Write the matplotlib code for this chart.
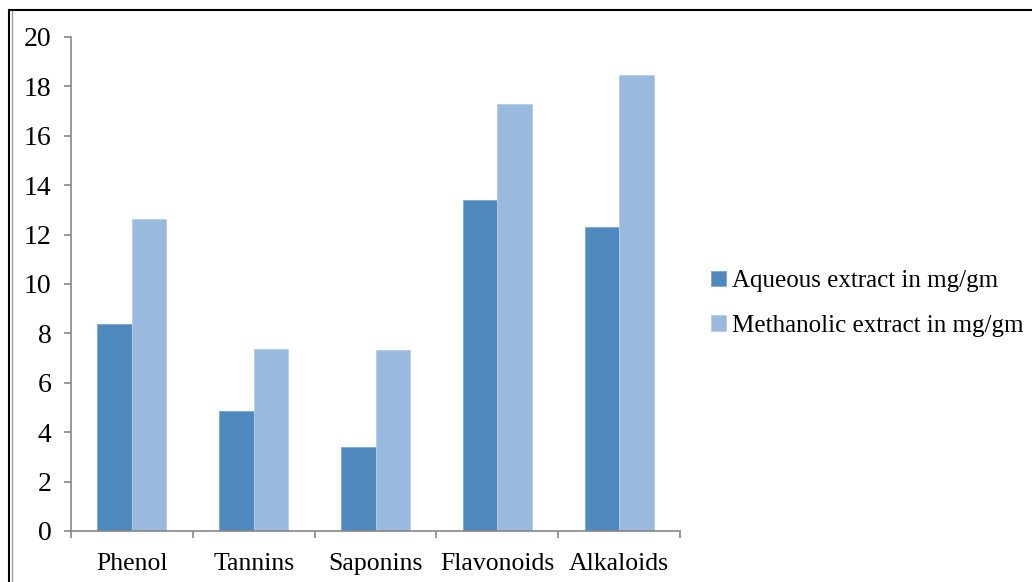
import matplotlib
matplotlib.use("Agg")
import matplotlib.pyplot as plt
from matplotlib.lines import Line2D
import numpy as np

categories = ["Phenol", "Tannins", "Saponins", "Flavonoids", "Alkaloids"]
aqueous = [8.37, 4.86, 3.39, 13.39, 12.30]
methanolic = [12.62, 7.36, 7.32, 17.29, 18.45]
series_names = ["Aqueous extract in mg/gm", "Methanolic extract in mg/gm"]

plt.rcParams['font.family'] = ['Liberation Serif', 'DejaVu Serif']

fig = plt.figure(figsize=(10.32, 5.82), dpi=100)
ax = fig.add_axes([71/1032, 1-531/582, 609/1032, 494/582])

x = np.arange(len(categories))
w = 0.283
ax.bar(x - w/2, aqueous, w, color='#4F89BD', edgecolor='#7FA6D0', linewidth=0.6, label=series_names[0])
ax.bar(x + w/2, methanolic, w, color='#99B9DF', edgecolor='#B5CDEA', linewidth=0.6, label=series_names[1])

ax.set_xlim(-0.5, len(categories) - 0.5)
ax.set_ylim(0, 20)
ax.set_yticks(range(0, 21, 2))
ax.set_xticks(x)
ax.set_xticklabels(categories)
ax.set_xticks(np.arange(-0.5, len(categories), 1), minor=True)

for s in ['top', 'right']:
    ax.spines[s].set_visible(False)
for s in ['left', 'bottom']:
    ax.spines[s].set_color('#868686')
    ax.spines[s].set_linewidth(1.2)

ax.tick_params(axis='y', direction='out', length=5, width=1.2, color='#868686',
               labelsize=20, pad=9)
ax.tick_params(axis='x', which='major', length=0, labelsize=18.5, pad=16)
ax.tick_params(axis='x', which='minor', direction='out', length=5, width=1.2, color='#868686')

ax.legend(loc='center left', bbox_to_anchor=(1.035, 0.4605), frameon=False,
          fontsize=18, handlelength=0.57, handleheight=0.57, handletextpad=0.25,
          labelspacing=0.9, borderaxespad=0)

# outer frame, top and left edges
fig.add_artist(Line2D([10/1032, 1.0], [1-10/582, 1-10/582], transform=fig.transFigure,
                      color='black', linewidth=1.5))
fig.add_artist(Line2D([9/1032, 9/1032], [0, 1-10/582], transform=fig.transFigure,
                      color='black', linewidth=1.5))
fig.add_artist(Line2D([11.5/1032, 11.5/1032], [0, 1-11/582], transform=fig.transFigure,
                      color='#A0A0A0', linewidth=1.0))

fig.savefig("out.png", dpi=100)
